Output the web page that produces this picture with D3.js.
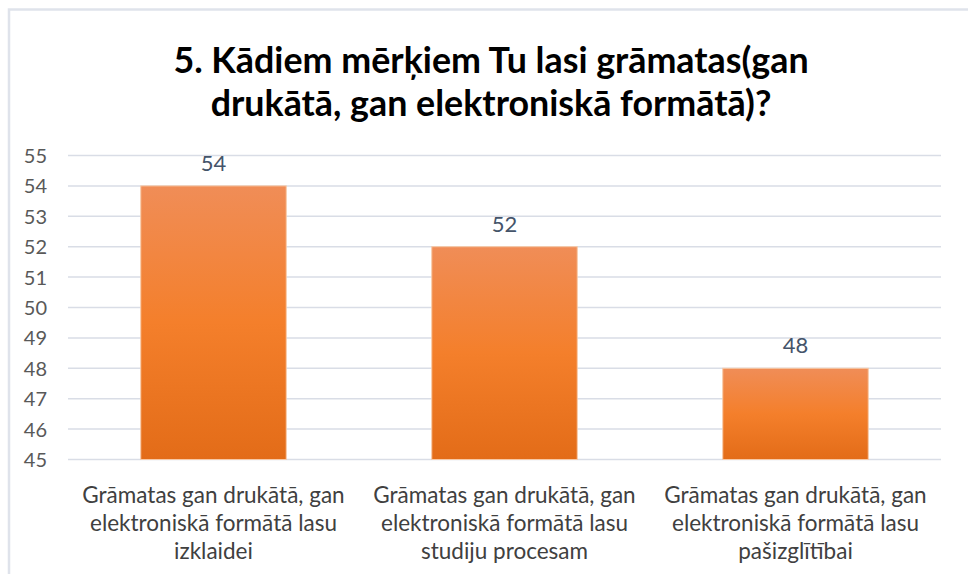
<!DOCTYPE html>
<html>
<head>
<meta charset="utf-8">
<script src="https://cdn.jsdelivr.net/npm/d3@7"></script>
<style>
  body { margin: 0; background: #fff; }
  svg { display: block; }
</style>
</head>
<body>
<script>
// dati
const kategorijas = [
  ["Grāmatas gan drukātā, gan", "elektroniskā formātā lasu", "izklaidei"],
  ["Grāmatas gan drukātā, gan", "elektroniskā formātā lasu", "studiju procesam"],
  ["Grāmatas gan drukātā, gan", "elektroniskā formātā lasu", "pašizglītībai"]
];
const vertibas = [54, 52, 48];
const yTicks = [45, 46, 47, 48, 49, 50, 51, 52, 53, 54, 55];
const virsraksts = ["5. Kādiem mērķiem Tu lasi grāmatas(gan", "drukātā, gan elektroniskā formātā)?"];

const W = 968, H = 574;
const font = "Lato, 'Open Sans', sans-serif";

const svg = d3.select("body").append("svg").attr("width", W).attr("height", H);

// gradients stabiņiem
const grad = svg.append("defs").append("linearGradient")
  .attr("id", "oranzs").attr("x1", 0).attr("y1", 0).attr("x2", 0).attr("y2", 1);
grad.append("stop").attr("offset", "0%").attr("stop-color", "#f08d57");
grad.append("stop").attr("offset", "50%").attr("stop-color", "#f47f2b");
grad.append("stop").attr("offset", "100%").attr("stop-color", "#e36c18");

// rāmis
svg.append("path").attr("d", `M9,${H} V9.5 H${W}`)
  .attr("fill", "none").attr("stroke", "#dfe3eb").attr("stroke-width", 2.5);

// virsraksts
svg.append("text").attr("x", 491).attr("y", 73)
  .attr("text-anchor", "middle").attr("font-family", font).attr("font-weight", "bold")
  .attr("font-size", 35.8).attr("fill", "#000")
  .selectAll("tspan").data(virsraksts).enter().append("tspan")
  .attr("x", 491).attr("dy", (d, i) => i ? 43 : 0).text(d => d);

// mērogi
const x = d3.scaleBand().domain(d3.range(vertibas.length)).range([68, 941])
  .paddingInner(0.5).paddingOuter(0.25);
const y = d3.scaleLinear().domain([45, 55]).range([459.5, 155.5]);

// režģa līnijas
svg.append("g").selectAll("line").data(yTicks).enter().append("line")
  .attr("x1", 68).attr("x2", 941)
  .attr("y1", d => y(d)).attr("y2", d => y(d))
  .attr("stroke", "#d9dde6").attr("stroke-width", 1.5);

// y ass
const yAxis = svg.append("g").attr("transform", "translate(58,0)")
  .call(d3.axisLeft(y).tickValues(yTicks).tickSize(0).tickPadding(0));
yAxis.select(".domain").remove();
yAxis.selectAll("text").attr("font-family", font).attr("font-size", 20)
  .attr("fill", "#595959").attr("x", -11).attr("dy", "0.35em");

// stabiņi
svg.append("g").selectAll("rect").data(vertibas).enter().append("rect")
  .attr("x", (d, i) => x(i)).attr("width", x.bandwidth())
  .attr("y", d => y(d)).attr("height", d => y(45) - y(d))
  .attr("fill", "url(#oranzs)").attr("stroke", "#f7c9a6").attr("stroke-width", 1);

// vērtību etiķetes
svg.append("g").selectAll("text").data(vertibas).enter().append("text")
  .attr("x", (d, i) => x(i) + x.bandwidth() / 2).attr("y", d => y(d) - 15)
  .attr("text-anchor", "middle").attr("font-family", font).attr("font-size", 22)
  .attr("fill", "#44546a").text(d => d);

// kategoriju etiķetes
const kat = svg.append("g").selectAll("text").data(kategorijas).enter().append("text")
  .attr("text-anchor", "middle").attr("font-family", font).attr("font-size", 22.5)
  .attr("fill", "#404040");
kat.selectAll("tspan").data((d, i) => d.map(s => ({ s, i }))).enter().append("tspan")
  .attr("x", d => x(d.i) + x.bandwidth() / 2)
  .attr("y", (d, j) => 503 + j * 28).text(d => d.s);
</script>
</body>
</html>
